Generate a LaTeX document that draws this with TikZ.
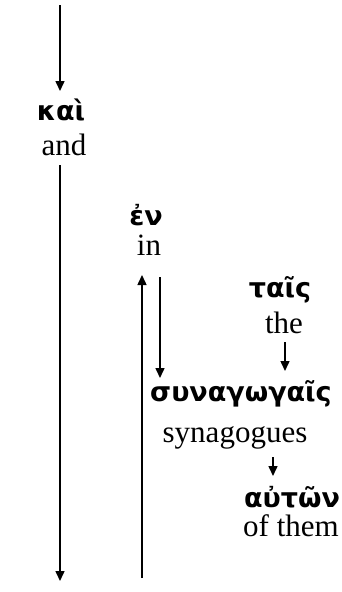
\documentclass[tikz,border=0pt]{standalone}
\usepackage{fontspec}
\setmainfont{Liberation Serif}
\newfontfamily\grk{DejaVu Sans}
\usetikzlibrary{arrows.meta}
\tikzset{
  gk/.style={anchor=base, inner sep=0pt, font=\grk\bfseries\fontsize{27}{30}\selectfont},
  en/.style={anchor=base, inner sep=0pt, font=\fontsize{31}{36}\selectfont},
  arr/.style={line width=1.5pt, -{Triangle[length=10pt,width=9pt]}},
}
\begin{document}
\begin{tikzpicture}[x=1pt,y=-1pt]
\useasboundingbox (0,0) rectangle (342,592);
% words
\node[gk] (kai) at (61,120) {καὶ};
\node[en] (and) at (64,155) {and};
\node[gk] (en) at (146,225) {ἐν};
\node[en] (in) at (149,255) {in};
\node[gk] (tais) at (280,297) {ταῖς};
\node[en] (the) at (284,333) {the};
\node[gk] (syn) at (241,401) {συναγωγαῖς};
\node[en] (synag) at (235,442) {synagogues};
\node[gk] (auton) at (292,507) {αὐτῶν};
\node[en] (ofthem) at (291,536) {of them};
% connector ends
\coordinate (top) at (60,5);
\coordinate (kaiin) at (60,91);
\coordinate (andout) at (60,165);
\coordinate (bottom) at (60,581);
\coordinate (upstart) at (142,578);
\coordinate (inin) at (142,275);
\coordinate (inout) at (160,277);
\coordinate (synin) at (160,378);
\coordinate (theout) at (285,342);
\coordinate (synin2) at (285,371);
\coordinate (synout) at (273,457);
\coordinate (autonin) at (273,476);
% connectors
\draw[arr] (top) -- (kaiin);
\draw[arr] (andout) -- (bottom);
\draw[arr] (upstart) -- (inin);
\draw[arr] (inout) -- (synin);
\draw[arr] (theout) -- (synin2);
\draw[arr] (synout) -- (autonin);
\end{tikzpicture}
\end{document}
